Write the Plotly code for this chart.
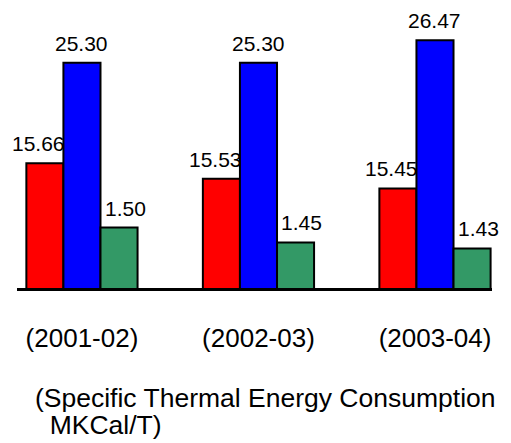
import plotly.graph_objects as go

# ---- data ----
periods = ["(2001-02)", "(2002-03)", "(2003-04)"]
series_red = [15.66, 15.53, 15.45]
series_blue = [25.30, 25.30, 26.47]
series_green = [1.50, 1.45, 1.43]

title_line1 = "(Specific Thermal Energy Consumption"
title_line2 = "\u00a0\u00a0MKCal/T)"

FONT = "Liberation Sans, Arial, Helvetica, sans-serif"
BAR_W = 0.21

series = [
    ("Red", series_red, "#FF0000", "y", [14.62, 16.77], -6),
    ("Blue", series_blue, "#0000FF", "y2", [13.63, 27.0], 0),
    ("Green", series_green, "#339966", "y3", [1.297, 2.164], 6),
]

fig = go.Figure()
annotations = []
for k, (name, vals, color, yref, rng, xs) in enumerate(series):
    off = -1.5 * BAR_W + k * BAR_W
    fig.add_trace(go.Bar(
        x=periods, y=vals, name=name, yaxis=yref,
        width=BAR_W, offset=off,
        marker=dict(color=color, line=dict(color="black", width=2)),
        showlegend=False, hoverinfo="x+y",
    ))
    for i, v in enumerate(vals):
        annotations.append(dict(
            x=i + off + BAR_W / 2, y=v, xref="x", yref=yref,
            text=f"{v:.2f}", showarrow=False, yanchor="bottom",
            yshift=8, xshift=xs, borderpad=0, borderwidth=0,
            font=dict(family=FONT, size=21, color="black"),
        ))

annotations.append(dict(
    x=0, y=0, xref="paper", yref="paper", xanchor="left", yanchor="middle",
    text=title_line1, showarrow=False, xshift=16, yshift=-110, align="left",
    font=dict(family=FONT, size=26.5, color="black"),
))
annotations.append(dict(
    x=0, y=0, xref="paper", yref="paper", xanchor="left", yanchor="middle",
    text=title_line2, showarrow=False, xshift=16, yshift=-137, align="left",
    font=dict(family=FONT, size=26.5, color="black"),
))

fig.update_layout(
    width=503, height=435,
    margin=dict(l=9, r=19, t=22, b=155),
    paper_bgcolor="white", plot_bgcolor="white",
    barmode="overlay",
    xaxis=dict(
        type="category", range=[-0.368, 2.323],
        showline=True, linecolor="black", linewidth=3,
        showgrid=False, zeroline=False, ticks="",
        tickfont=dict(family=FONT, size=26, color="black"),
        ticklabelstandoff=25,
    ),
    yaxis=dict(range=series[0][4], visible=False),
    yaxis2=dict(range=series[1][4], visible=False, overlaying="y"),
    yaxis3=dict(range=series[2][4], visible=False, overlaying="y"),
    annotations=annotations,
)

fig.write_html("out.html")
